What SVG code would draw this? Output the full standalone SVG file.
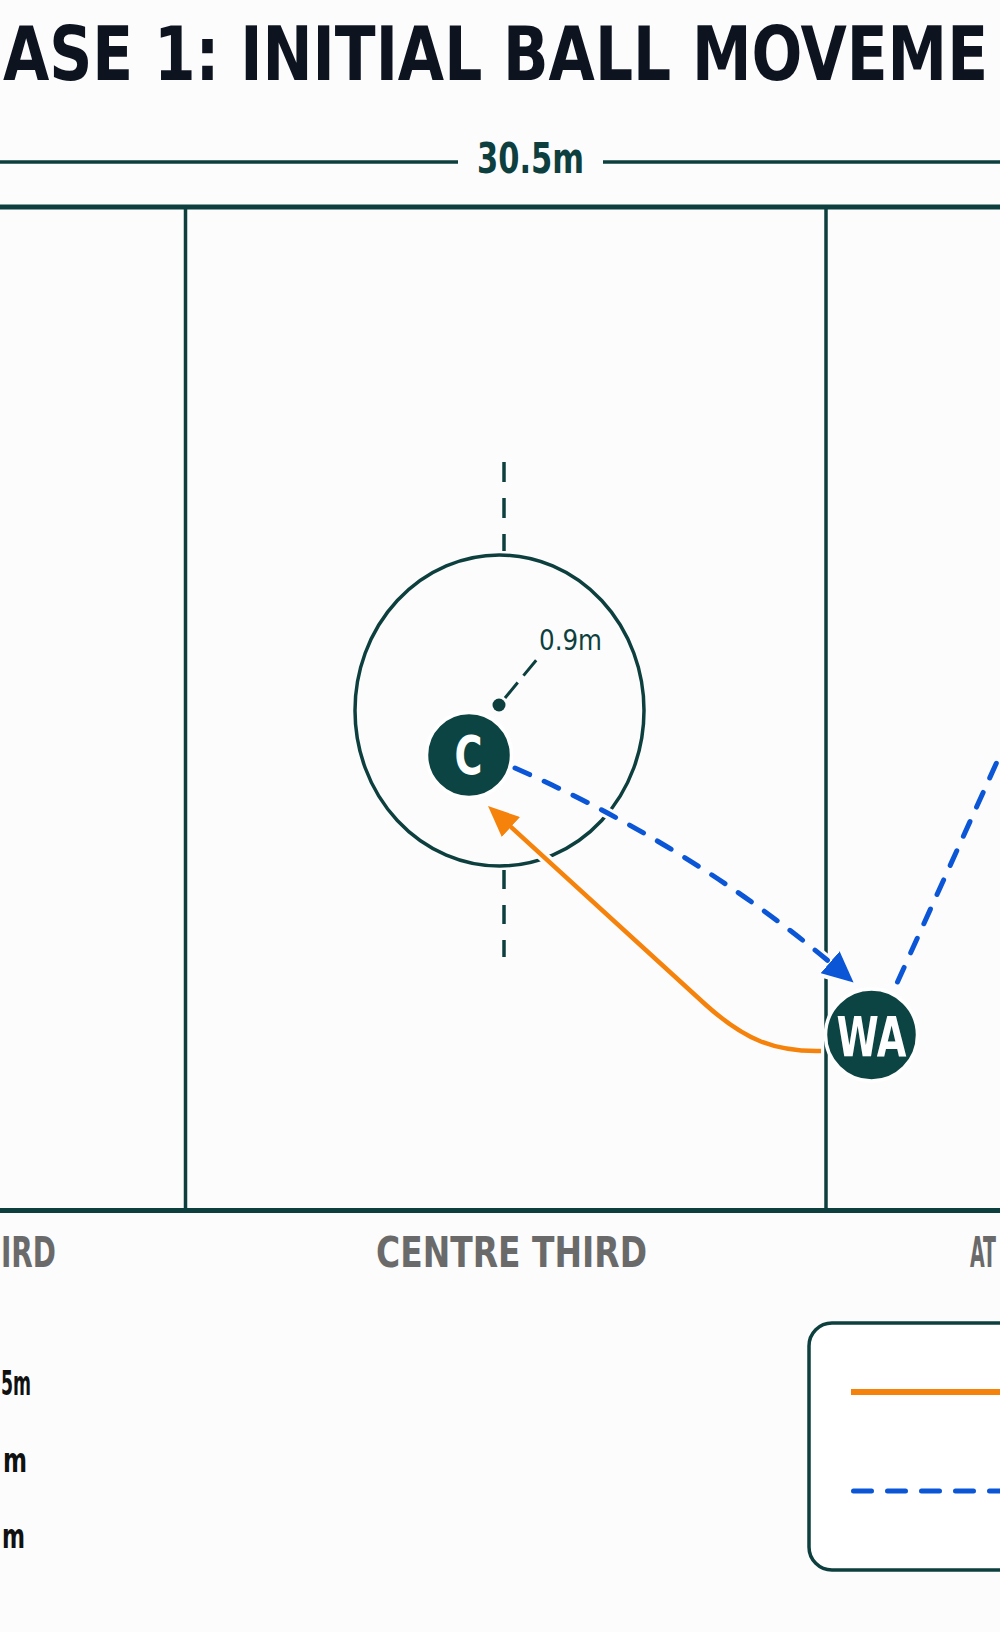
<svg xmlns="http://www.w3.org/2000/svg" width="1000" height="1632" viewBox="0 0 1000 1632">
<defs>
<style>
.bg{fill:#fcfcfc}
.court{stroke:#0d3f3e;fill:none}
.cond{font-family:"DejaVu Sans Condensed","Liberation Sans Narrow","DejaVu Sans",sans-serif;font-stretch:condensed;font-weight:700}
.title{font-size:74px;fill:#0d1420}
.dim{font-size:43px;fill:#0d3f3e}
.third{font-size:42px;fill:#6a6a6a}
.side{font-size:34px;fill:#111}
.node circle{fill:#0b4442;stroke:#fff;stroke-width:3.5}
.node text{fill:#fff;text-anchor:middle}
.halo{stroke:#fcfcfc;stroke-width:11;fill:none}
.orange{stroke:#f5820a;stroke-width:4.5;fill:none}
.blue{stroke:#0a56d6;stroke-width:5;fill:none;stroke-dasharray:16 16;stroke-linecap:round}
</style>
<marker id="headO" viewBox="0 0 31 27" markerWidth="31" markerHeight="27" refX="21" refY="13.5" orient="auto" markerUnits="userSpaceOnUse">
<path d="M0,0 L31,13.5 L0,27 Z" fill="#f5820a"/>
</marker>
<marker id="headB" viewBox="0 0 31 29" markerWidth="31" markerHeight="29" refX="21" refY="14.5" orient="auto" markerUnits="userSpaceOnUse">
<path d="M0,0 L31,14.5 L0,29 Z" fill="#0a56d6"/>
</marker>
<marker id="headH" viewBox="-5 -5 41 39" markerWidth="41" markerHeight="39" refX="21" refY="14.5" orient="auto" markerUnits="userSpaceOnUse">
<path d="M0,0 L31,14.5 L0,29 Z" fill="#fcfcfc" stroke="#fcfcfc" stroke-width="8" stroke-linejoin="round"/>
</marker>
</defs>
<rect class="bg" x="0" y="0" width="1000" height="1632"/>

<g id="title">
<text class="cond title" x="3" y="80" textLength="985" lengthAdjust="spacingAndGlyphs">ASE 1: INITIAL BALL MOVEME</text>
</g>

<g id="dimension">
<line class="court" x1="0" y1="162" x2="458" y2="162" stroke-width="3.5"/>
<line class="court" x1="603" y1="162" x2="1000" y2="162" stroke-width="3.5"/>
<text class="cond dim" x="477" y="173" textLength="107" lengthAdjust="spacingAndGlyphs">30.5m</text>
</g>

<g id="court">
<line class="court" x1="0" y1="207" x2="1000" y2="207" stroke-width="5"/>
<line class="court" x1="0" y1="1210.5" x2="1000" y2="1210.5" stroke-width="5"/>
<line class="court" x1="185.5" y1="207" x2="185.5" y2="1210" stroke-width="3.5"/>
<line class="court" x1="826" y1="207" x2="826" y2="1210" stroke-width="3.5"/>
<ellipse class="court" cx="499.5" cy="710.5" rx="144.5" ry="155.5" stroke-width="3.5"/>
<line class="court" x1="504" y1="462" x2="504" y2="551" stroke-width="3.5" stroke-dasharray="20 16"/>
<line class="court" x1="504" y1="870" x2="504" y2="957" stroke-width="3.5" stroke-dasharray="19 16"/>
<circle cx="499" cy="705" r="6.5" fill="#0d3f3e"/>
<line class="court" x1="505" y1="698" x2="538" y2="658" stroke-width="3" stroke-dasharray="20 9"/>
<text x="539" y="650" font-family="'DejaVu Sans Condensed','DejaVu Sans',sans-serif" font-size="28" fill="#0d3f3e" textLength="63" lengthAdjust="spacingAndGlyphs">0.9m</text>
</g>

<g id="connectors">
<path class="halo" d="M 515 768 Q 700 850 846 976" marker-end="url(#headH)"/>
<path class="halo" d="M 821 1051 C 775 1052 745 1040 706 1005 L 495.4 812.8" marker-end="url(#headH)"/>
<path class="halo" d="M 897.5 982 L 1010 733"/>
<path class="blue" d="M 515 768 Q 700 850 846 976" marker-end="url(#headB)"/>
<path class="orange" d="M 821 1051 C 775 1052 745 1040 706 1005 L 495.4 812.8" marker-end="url(#headO)"/>
<path class="blue" d="M 897.5 982 L 1010 733"/>
</g>

<g id="node-C" class="node">
<circle cx="469" cy="755" r="42.5"/>
<text class="cond" x="468.5" y="774" font-size="54" textLength="28" lengthAdjust="spacingAndGlyphs">C</text>
</g>

<g id="node-WA" class="node">
<circle cx="871.5" cy="1035" r="46"/>
<text class="cond" x="871.5" y="1056" font-size="55" textLength="70" lengthAdjust="spacingAndGlyphs">WA</text>
</g>

<g id="labels">
<text class="cond third" x="1" y="1267" textLength="55" lengthAdjust="spacingAndGlyphs">IRD</text>
<text class="cond third" x="376" y="1267" textLength="271" lengthAdjust="spacingAndGlyphs">CENTRE THIRD</text>
<text class="cond third" x="970" y="1267" textLength="26" lengthAdjust="spacingAndGlyphs">AT</text>
<text class="cond side" x="1" y="1395" textLength="30" lengthAdjust="spacingAndGlyphs">5m</text>
<text class="cond side" x="3" y="1472" textLength="24" lengthAdjust="spacingAndGlyphs">m</text>
<text class="cond side" x="2" y="1548" textLength="23" lengthAdjust="spacingAndGlyphs">m</text>
</g>

<g id="legend">
<rect x="809" y="1323" width="260" height="247" rx="23" fill="#fff" stroke="#0d3f3e" stroke-width="3.5"/>
<line x1="851" y1="1392" x2="1000" y2="1392" stroke="#f5820a" stroke-width="6"/>
<line x1="853.5" y1="1491" x2="1000" y2="1491" stroke="#0a56d6" stroke-width="5" stroke-linecap="round" stroke-dasharray="18 16"/>
</g>
</svg>
